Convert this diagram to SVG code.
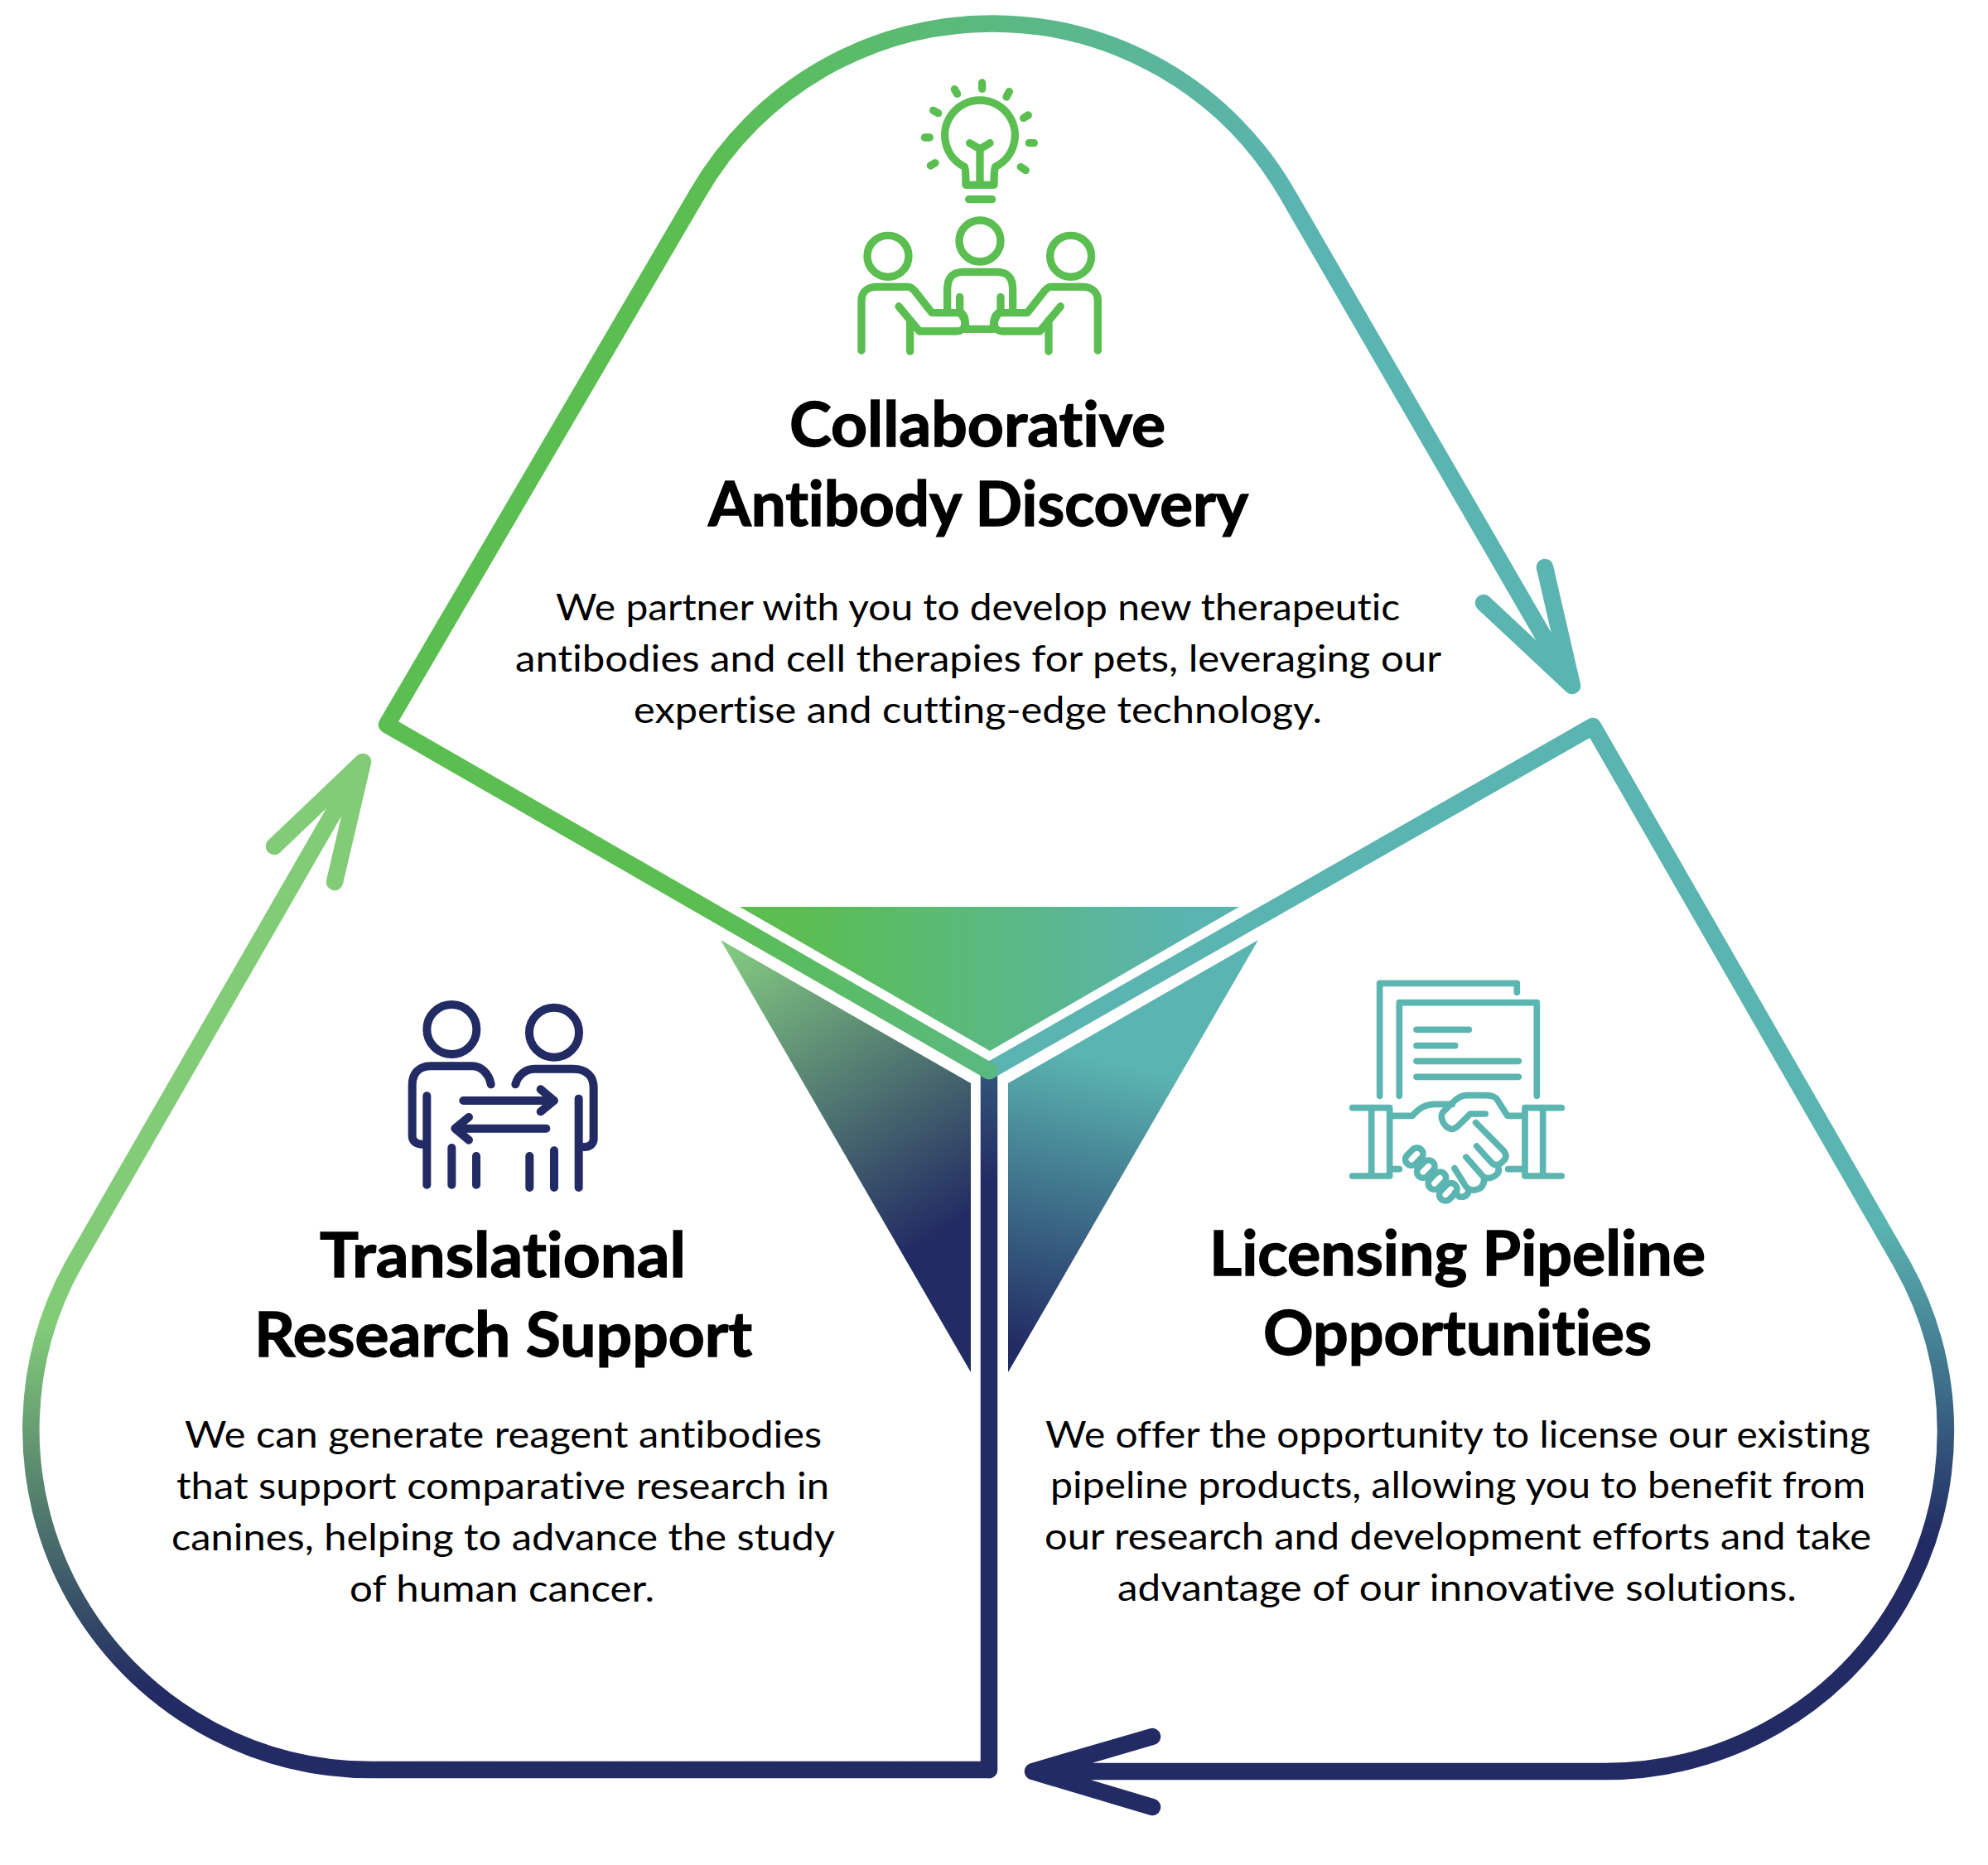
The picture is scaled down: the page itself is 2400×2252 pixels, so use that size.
<svg xmlns="http://www.w3.org/2000/svg" width="2400" height="2252" viewBox="0 0 2400 2252">
<style>
text{font-variant-ligatures:none}
.h{font-family:Lato,"Liberation Sans",sans-serif;font-weight:700;font-size:75px;fill:#000;stroke:#000;stroke-width:1.4px}
.b{font-family:Lato,"Liberation Sans",sans-serif;font-weight:400;font-size:45px;fill:#000}
.line{fill:none;stroke-width:20.5;stroke-linecap:round;stroke-linejoin:round}
.ic{fill:none;stroke-linecap:round;stroke-linejoin:round}
.g{stroke:#5ABE50;stroke-width:28}
.n{stroke:#222B63;stroke-width:30}
.t{stroke:#5BB5B0;stroke-width:23}
</style>
<defs>
<linearGradient id="gTop" gradientUnits="userSpaceOnUse" x1="840" y1="0" x2="1560" y2="0"><stop offset="0" stop-color="#5ABE50"/><stop offset="1" stop-color="#5AB4B0"/></linearGradient>
<linearGradient id="gRight" gradientUnits="userSpaceOnUse" x1="0" y1="1480" x2="0" y2="1860"><stop offset="0" stop-color="#5AB4B0"/><stop offset="1" stop-color="#222B63"/></linearGradient>
<linearGradient id="gLeft" gradientUnits="userSpaceOnUse" x1="0" y1="1600" x2="0" y2="2040"><stop offset="0" stop-color="#82CC78"/><stop offset="1" stop-color="#222B63"/></linearGradient>
<linearGradient id="gStem" gradientUnits="userSpaceOnUse" x1="0" y1="1293" x2="0" y2="1430"><stop offset="0" stop-color="#33557A"/><stop offset="1" stop-color="#222B63"/></linearGradient>
<linearGradient id="gTri1" gradientUnits="userSpaceOnUse" x1="960" y1="0" x2="1430" y2="0"><stop offset="0" stop-color="#5ABE50"/><stop offset="1" stop-color="#5AB4B0"/></linearGradient>
<linearGradient id="gTri2" gradientUnits="userSpaceOnUse" x1="900" y1="1140" x2="1120" y2="1500"><stop offset="0" stop-color="#82C880"/><stop offset="1" stop-color="#222B63"/></linearGradient>
<linearGradient id="gTri3" gradientUnits="userSpaceOnUse" x1="1370" y1="1290" x2="1290" y2="1640"><stop offset="0" stop-color="#5AB4B0"/><stop offset="1" stop-color="#222B63"/></linearGradient>
</defs>
<rect width="2400" height="2252" fill="#fff"/>
<g id="connectors">
<line class="line" x1="1194" y1="1293" x2="1194" y2="2137" stroke="url(#gStem)" stroke-linecap="butt"/>
<path class="line" stroke="url(#gRight)" d="M1194,1293 L1923,877 L2293,1521 A411,411 0 0 1 1938,2139 H1247 M1391,2097 L1247,2139 L1391,2182"/>
<path class="line" stroke="url(#gLeft)" d="M1194,2137 H448 A411,411 0 0 1 91,1523 L438,920 M331,1022 L438,920 L404,1065"/>
<path class="line" stroke="url(#gTop)" d="M1194,1293 L467,875 L842,234 A411,411 0 0 1 1554,234 L1898,828 M1791,728 L1898,828 L1865,685"/>
</g>
<g id="center-triangles">
<polygon points="893,1095 1496,1095 1195,1269" fill="url(#gTri1)"/>
<polygon points="870,1135 1172,1308 1172,1657" fill="url(#gTri2)"/>
<polygon points="1519,1135 1217,1308 1217,1657" fill="url(#gTri3)"/>
</g>
<g id="node-collaborative">
<g class="ic g" transform="translate(1000,70) scale(0.3333)">
<path d="M493,394 A127,127 0 1 1 605,394 C603,396 600,410 600,460 H498 C498,420 497,400 493,394 Z"/>
<path d="M549,330 V450 M512,308 L549,330 L585,308 M509,512 H593"/>
<path d="M557,90 V112 M457,113 L467,130 M380,190 L398,200 M349,288 H367 M370,390 L387,380 M655,122 L645,141 M724,207 L707,218 M727,308 H745 M697,395 L715,407"/>
<circle cx="216" cy="718" r="75"/><circle cx="549" cy="663" r="75"/><circle cx="878" cy="718" r="75"/>
<path d="M120,1060 V880 C120,850 140,829 175,829 H290 C300,829 305,835 312,843 L375,923 H470 C482,923 495,945 495,962 C495,980 480,990 465,990 H330 L255,900 M296,950 V1063"/>
<path d="M976,1060 V880 C976,850 956,829 921,829 H806 C796,829 791,835 784,843 L721,923 H626 C614,923 601,945 601,962 C601,980 616,990 631,990 H766 L841,900 M798,950 V1063"/>
<path d="M431,915 V840 C431,795 450,775 490,775 H610 C650,775 668,795 668,840 V915 M476,866 V920 C495,930 497,950 497,982 H598 C598,950 600,930 624,920 V866"/>
</g>
<text class="h" x="953" y="539" textLength="454" lengthAdjust="spacingAndGlyphs">Collaborative</text>
<text class="h" x="855" y="635" textLength="652" lengthAdjust="spacingAndGlyphs">Antibody Discovery</text>
<text class="b" x="671" y="749" textLength="1019" lengthAdjust="spacingAndGlyphs">We partner with you to develop new therapeutic</text>
<text class="b" x="622" y="811" textLength="1118" lengthAdjust="spacingAndGlyphs">antibodies and cell therapies for pets, leveraging our</text>
<text class="b" x="765" y="873" textLength="831" lengthAdjust="spacingAndGlyphs">expertise and cutting-edge technology.</text>
</g>
<g id="node-translational">
<g class="ic n" transform="translate(470,1180) scale(0.3333)">
<circle cx="226" cy="189" r="90"/><circle cx="597" cy="200" r="90"/>
<path d="M368,388 C360,345 330,322 300,322 H150 C105,322 83,350 83,390 V575 C83,595 100,605 120,605 H136 M136,430 V752 M226,618 V752 M315,648 V752"/>
<path d="M457,388 C465,355 495,332 525,332 H665 C715,332 740,360 740,400 V585 C740,605 725,615 705,615 H686 M686,440 V762 M597,628 V762 M508,648 V762"/>
<path d="M268,447 H590 M548,406 L597,447 L548,487 M568,548 H245 M288,507 L238,548 L288,590"/>
</g>
<text class="h" x="386" y="1542" textLength="442" lengthAdjust="spacingAndGlyphs">Translational</text>
<text class="h" x="307" y="1638" textLength="601" lengthAdjust="spacingAndGlyphs">Research Support</text>
<text class="b" x="223" y="1748" textLength="769" lengthAdjust="spacingAndGlyphs">We can generate reagent antibodies</text>
<text class="b" x="213" y="1810" textLength="788" lengthAdjust="spacingAndGlyphs">that support comparative research in</text>
<text class="b" x="207" y="1872" textLength="801" lengthAdjust="spacingAndGlyphs">canines, helping to advance the study</text>
<text class="b" x="422" y="1934" textLength="368" lengthAdjust="spacingAndGlyphs">of human cancer.</text>
</g>
<g id="node-licensing">
<g class="ic t" transform="translate(1610,1160) scale(0.3333)">
<path d="M167,490 V82 H664 V115 M238,490 V152 H736 V490"/>
<path d="M300,250 H490 M300,308 H440 M300,364 H670 M300,421 H670"/>
<path d="M68,533 H203 V780 H68 M137,533 V780 M203,755 H238 M826,533 H693 V780 H826 M758,533 V780 M693,755 H632"/>
<path d="M203,562 H285 C310,535 330,520 370,520 H430"/>
<path d="M693,562 H630 L590,500 C580,490 570,488 550,488 H480 C460,488 445,500 430,515 L395,550 C385,565 395,600 425,610 C440,610 450,600 460,590 L495,555 H550"/>
<path d="M515,587 L615,688 Q635,712 610,730 Q590,748 575,735 L518,672 M595,745 Q605,770 580,782 Q555,795 540,780 L480,712 M545,790 Q545,825 515,830 Q495,835 480,820 L438,752 M490,830 Q485,860 455,855 L440,840"/>
<rect x="-36" y="-22" width="72" height="44" rx="22" transform="translate(292,710) rotate(-45)"/>
<rect x="-36" y="-22" width="72" height="44" rx="22" transform="translate(334,755) rotate(-45)"/>
<rect x="-36" y="-22" width="72" height="44" rx="22" transform="translate(375,797) rotate(-45)"/>
<rect x="-36" y="-22" width="72" height="44" rx="22" transform="translate(415,838) rotate(-45)"/>
</g>
<text class="h" x="1460" y="1540" textLength="599" lengthAdjust="spacingAndGlyphs">Licensing Pipeline</text>
<text class="h" x="1525" y="1636" textLength="469" lengthAdjust="spacingAndGlyphs">Opportunities</text>
<text class="b" x="1262" y="1748" textLength="996" lengthAdjust="spacingAndGlyphs">We offer the opportunity to license our existing</text>
<text class="b" x="1268" y="1809" textLength="984" lengthAdjust="spacingAndGlyphs">pipeline products, allowing you to benefit from</text>
<text class="b" x="1261" y="1871" textLength="998" lengthAdjust="spacingAndGlyphs">our research and development efforts and take</text>
<text class="b" x="1349" y="1933" textLength="820" lengthAdjust="spacingAndGlyphs">advantage of our innovative solutions.</text>
</g>
</svg>
